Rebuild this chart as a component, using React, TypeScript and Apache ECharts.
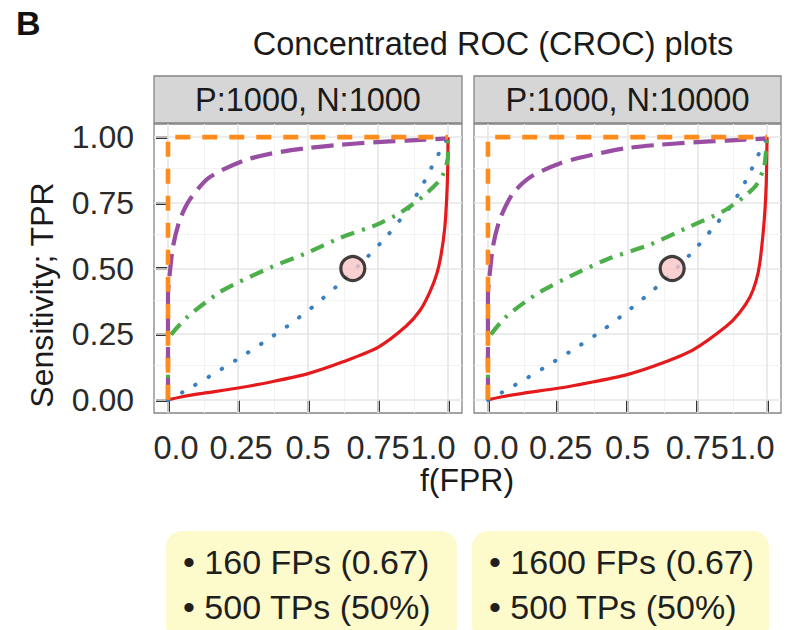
import React, { useEffect, useRef } from 'react';
import * as echarts from 'echarts';

const panelTitles = ['P:1000, N:1000', 'P:1000, N:10000'];
const tickValues = [0, 0.25, 0.5, 0.75, 1];
const minorValues = [0.125, 0.375, 0.625, 0.875];
const xTickLabels = ['0.0', '0.25', '0.5', '0.75', '1.0'];
const yTickLabels = ['0.00', '0.25', '0.50', '0.75', '1.00'];
const chartTitle = 'Concentrated ROC (CROC) plots';
const xTitle = 'f(FPR)';
const yTitle = 'Sensitivity; TPR';
const panelLetter = 'B';

// Left panel curves (x = f(FPR), y = TPR)
const redLeft = [[0, 0], [0.05, 0.012], [0.125, 0.025], [0.25, 0.045], [0.375, 0.07], [0.5, 0.1], [0.625, 0.145], [0.75, 0.2], [0.85, 0.28], [0.9, 0.34], [0.935, 0.41], [0.96, 0.48], [0.975, 0.55], [0.988, 0.65], [0.995, 0.76], [0.999, 0.88], [1, 1]];
const blueLeft = [[0, 0], [0.054, 0.03], [0.149, 0.09], [0.244, 0.152], [0.34, 0.218], [0.43, 0.283], [0.518, 0.355], [0.6, 0.43], [0.714, 0.546], [0.786, 0.628], [0.851, 0.717], [0.91, 0.82], [0.958, 0.92], [0.99, 0.98], [1, 1]];
const greenLeft = [[0, 0], [0, 0.222], [0.071, 0.317], [0.185, 0.41], [0.256, 0.45], [0.375, 0.508], [0.494, 0.558], [0.613, 0.616], [0.744, 0.666], [0.827, 0.71], [0.91, 0.774], [0.976, 0.844], [1, 0.926], [1, 1]];
const purpleLeft = [[0, 0], [0, 0.4], [0.004, 0.457], [0.018, 0.584], [0.042, 0.685], [0.077, 0.761], [0.137, 0.838], [0.196, 0.876], [0.28, 0.914], [0.375, 0.939], [0.494, 0.958], [0.613, 0.971], [0.732, 0.98], [0.85, 0.987], [1, 0.995]];
const orangeLeft = [[0, 0], [0, 1], [1, 1]];
const pointLeft = [0.66, 0.5];

// Right panel curves
const redRight = [[0, 0], [0.05, 0.012], [0.125, 0.025], [0.257, 0.045], [0.375, 0.068], [0.496, 0.095], [0.625, 0.14], [0.735, 0.19], [0.854, 0.28], [0.9, 0.33], [0.938, 0.39], [0.96, 0.45], [0.974, 0.52], [0.99, 0.685], [0.997, 0.82], [1, 1]];
const blueRight = [[0, 0], [0.05, 0.028], [0.143, 0.085], [0.233, 0.143], [0.323, 0.203], [0.412, 0.266], [0.496, 0.334], [0.579, 0.406], [0.62, 0.444], [0.735, 0.565], [0.806, 0.654], [0.878, 0.749], [0.932, 0.85], [0.98, 0.958], [1, 1]];
const greenRight = [[0, 0], [0, 0.222], [0.066, 0.317], [0.179, 0.406], [0.305, 0.476], [0.436, 0.539], [0.579, 0.59], [0.711, 0.654], [0.842, 0.717], [0.89, 0.751], [0.926, 0.78], [0.962, 0.818], [0.99, 0.888], [1, 1]];
const purpleRight = [[0, 0], [0, 0.4], [0.003, 0.444], [0.018, 0.584], [0.042, 0.685], [0.09, 0.787], [0.155, 0.85], [0.257, 0.9], [0.376, 0.933], [0.496, 0.958], [0.615, 0.971], [0.735, 0.98], [0.854, 0.987], [1, 0.995]];
const orangeRight = [[0, 0], [0, 1], [1, 1]];
const pointRight = [0.66, 0.5];

const boxLeft = ['• 160 FPs (0.67)', '• 500 TPs (50%)'];
const boxRight = ['• 1600 FPs (0.67)', '• 500 TPs (50%)'];

const FONT = 'Liberation Sans, Arial, Helvetica, sans-serif';
const panels = [
  { left: 154, width: 308 },
  { left: 474, width: 307 },
];
const TOP = 124;
const HEIGHT = 289;
// horizontal nudges of x tick labels (px), as placed in the original figure
const xLabelShift = [8, 3, 0, 0, -15];

export default function App() {
  const ref = useRef<HTMLDivElement>(null);
  useEffect(() => {
    if (!ref.current) return;
    const chart = echarts.init(ref.current, undefined, { renderer: 'svg' });
    const panelData = [
      { red: redLeft, blue: blueLeft, green: greenLeft, purple: purpleLeft, orange: orangeLeft, point: pointLeft },
      { red: redRight, blue: blueRight, green: greenRight, purple: purpleRight, orange: orangeRight, point: pointRight },
    ];
    const grids = panels.map((p) => ({
      left: p.left, top: TOP, width: p.width, height: HEIGHT,
      show: true, borderColor: '#858585', borderWidth: 1.3, backgroundColor: '#ffffff',
    }));
    const rich: any = {};
    xLabelShift.forEach((s, k) => {
      rich['l' + k] = {
        fontSize: 32.5, color: '#2a2a2a', fontFamily: FONT,
        padding: s >= 0 ? [0, 0, 0, 2 * s] : [0, -2 * s, 0, 0],
      };
    });
    const xAxes = panels.map((_, i) => ({
      type: 'value', gridIndex: i, min: -0.05, max: 1.05,
      axisLine: { show: false },
      splitLine: { show: false },
      axisTick: { show: true, customValues: tickValues, length: 12, lineStyle: { color: '#333', width: 3 } },
      axisLabel: {
        show: true, customValues: tickValues, margin: 18, fontSize: 32.5, color: '#2a2a2a', fontFamily: FONT,
        formatter: (v: number) => {
          const k = tickValues.indexOf(v);
          return k < 0 ? '' : `{l${k}|${xTickLabels[k]}}`;
        },
        rich,
      },
    }));
    const yAxes = panels.map((_, i) => ({
      type: 'value', gridIndex: i, min: -0.05, max: 1.05,
      axisLine: { show: false },
      splitLine: { show: false },
      axisTick: { show: i === 0, customValues: tickValues, length: 12, lineStyle: { color: '#333', width: 3 } },
      axisLabel: {
        show: i === 0, customValues: tickValues, margin: 20, fontSize: 32, color: '#2a2a2a', fontFamily: FONT,
        formatter: (v: number) => yTickLabels[tickValues.indexOf(v)] ?? '',
      },
    }));
    const series: any[] = [];
    panels.forEach((_, i) => {
      const d = panelData[i];
      const gridLines: any[] = [];
      minorValues.forEach((v) => {
        gridLines.push({ xAxis: v, lineStyle: { color: '#f3f3f3', width: 1, type: 'solid' } });
        gridLines.push({ yAxis: v, lineStyle: { color: '#f3f3f3', width: 1, type: 'solid' } });
      });
      tickValues.forEach((v) => {
        gridLines.push({ xAxis: v, lineStyle: { color: '#e6e6e6', width: 1.6, type: 'solid' } });
        gridLines.push({ yAxis: v, lineStyle: { color: '#e6e6e6', width: 1.6, type: 'solid' } });
      });
      series.push({
        type: 'line', xAxisIndex: i, yAxisIndex: i, data: [[0.5, 0.5]], showSymbol: false, symbol: 'none',
        lineStyle: { opacity: 0 }, z: 1, silent: true,
        markLine: { z: 1, silent: true, symbol: ['none', 'none'], label: { show: false }, data: gridLines, animation: false },
      });
      const mk = (name: string, data: number[][], color: string, width: number, type: any, cap: string = 'butt', smooth: number | boolean = 0.2) => ({
        type: 'line', name, xAxisIndex: i, yAxisIndex: i, data, showSymbol: false, symbol: 'none', smooth,
        lineStyle: { color, width, type, cap }, z: 3, silent: true,
      });
      series.push(mk('Red', d.red, '#E41A1C', 3.2, 'solid', 'butt', 0.25));
      series.push(mk('Blue', d.blue, '#3A80C0', 4, [0.5, 15], 'round', 0.2));
      series.push(mk('Green', d.green, '#4DAF4A', 4.2, [14, 8, 3, 8], 'butt', 0.2));
      series.push(mk('Purple', d.purple, '#984EA3', 4.2, [22, 9], 'butt', 0.25));
      series.push(mk('Orange', d.orange, '#FF8C1A', 4.6, [15, 12], 'butt', false));
      series.push({
        type: 'scatter', xAxisIndex: i, yAxisIndex: i, data: [d.point], symbol: 'circle', symbolSize: 24, z: 5, silent: true,
        itemStyle: { color: '#F7C6C6', borderColor: '#111', borderWidth: 3.2 },
      });
    });

    const graphic: any[] = [
      { type: 'text', left: 16, top: 6, style: { text: panelLetter, font: `bold 34px ${FONT}`, fill: '#111' } },
      { type: 'text', x: 493, y: 44, style: { text: chartTitle, font: `32.5px ${FONT}`, fill: '#1a1a1a', textAlign: 'center', textVerticalAlign: 'middle' } },
      { type: 'text', x: 42, y: 295, rotation: Math.PI / 2, style: { text: yTitle, font: `32px ${FONT}`, fill: '#1a1a1a', textAlign: 'center', textVerticalAlign: 'middle' } },
      { type: 'text', x: 467, y: 480, style: { text: xTitle, font: `32px ${FONT}`, fill: '#1a1a1a', textAlign: 'center', textVerticalAlign: 'middle' } },
    ];
    panels.forEach((p, i) => {
      graphic.push({ type: 'rect', shape: { x: p.left, y: 76, width: p.width, height: 47 }, style: { fill: '#D6D6D6', stroke: '#858585', lineWidth: 1.3 } });
      graphic.push({ type: 'text', x: p.left + p.width / 2, y: 100, style: { text: panelTitles[i], font: `32.5px ${FONT}`, fill: '#1a1a1a', textAlign: 'center', textVerticalAlign: 'middle' } });
    });
    const boxes = [
      { x: 166, w: 291, lines: boxLeft },
      { x: 472, w: 297, lines: boxRight },
    ];
    boxes.forEach((b) => {
      graphic.push({ type: 'rect', shape: { x: b.x, y: 531, width: b.w, height: 110, r: 16 }, style: { fill: '#FDFACB' } });
      b.lines.forEach((t, k) => {
        graphic.push({ type: 'text', x: b.x + 17, y: 562 + k * 45, style: { text: t, font: `34px ${FONT}`, fill: '#1f1f1f', textAlign: 'left', textVerticalAlign: 'middle' } });
      });
    });

    chart.setOption({
      animation: false,
      backgroundColor: '#ffffff',
      grid: grids,
      xAxis: xAxes,
      yAxis: yAxes,
      series,
      graphic,
    });
    return () => chart.dispose();
  }, []);
  return <div ref={ref} style={{ position: 'fixed', left: 0, top: 0, width: 789, height: 630 }} />;
}
